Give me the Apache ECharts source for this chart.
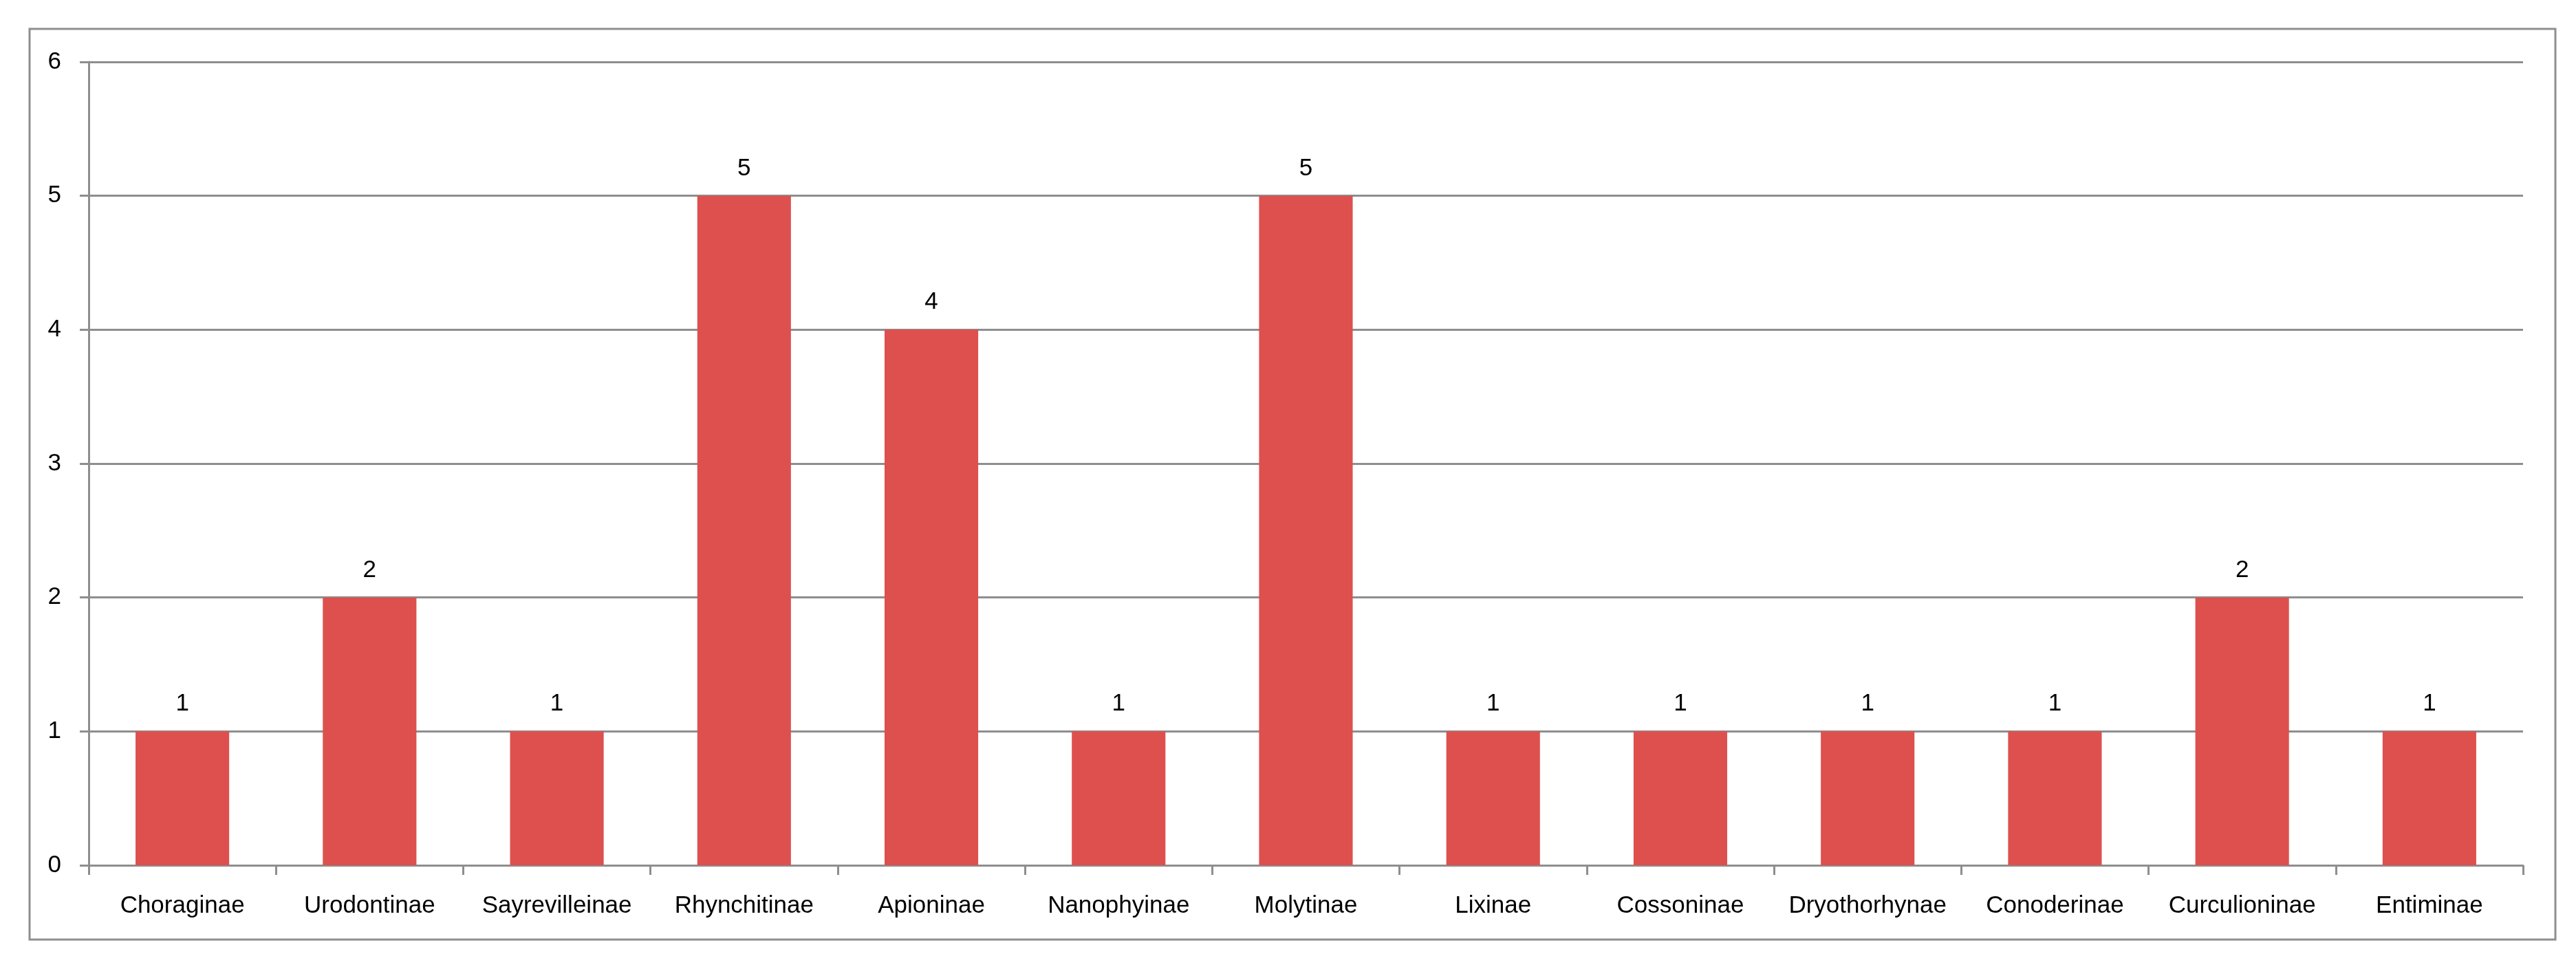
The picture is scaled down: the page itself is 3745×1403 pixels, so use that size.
<!DOCTYPE html>
<html lang="en">
<head>
    <meta charset="UTF-8">
    <title>Subfamilies</title>
    <script src="https://cdn.jsdelivr.net/npm/echarts@6/dist/echarts.min.js"></script>
    <style>
        html, body { margin: 0; padding: 0; background: #fff; }
        #main { width: 3745px; height: 1403px; }
    </style>
</head>
<body>
<div id="main"></div>

<script>
    // categories and counts
    var subfamilies = ['Choraginae', 'Urodontinae', 'Sayrevilleinae', 'Rhynchitinae', 'Apioninae',
        'Nanophyinae', 'Molytinae', 'Lixinae', 'Cossoninae', 'Dryothorhynae', 'Conoderinae',
        'Curculioninae', 'Entiminae'];
    var counts = [1, 2, 1, 5, 4, 1, 5, 1, 1, 1, 1, 2, 1];
    var yTicks = [0, 1, 2, 3, 4, 5, 6];

    var lineColor = '#8e8e8e';
    var font = "'Liberation Sans', Arial, sans-serif";

    var myChart = echarts.init(document.getElementById('main'));

    var option = {
        backgroundColor: '#fff',
        animation: false,
        graphic: [
            {
                type: 'rect',
                shape: {x: 43, y: 42, width: 3672, height: 1324},
                style: {fill: 'none', stroke: lineColor, lineWidth: 3}
            }
        ],
        grid: {
            left: 129,
            right: 77,
            top: 90,
            bottom: 145
        },
        xAxis: {
            type: 'category',
            data: subfamilies,
            axisLine: {lineStyle: {color: lineColor, width: 3}},
            axisTick: {show: true, length: 14, lineStyle: {color: lineColor, width: 3}},
            axisLabel: {
                color: '#000',
                fontFamily: font,
                fontSize: 35,
                margin: 42,
                interval: 0
            }
        },
        yAxis: {
            type: 'value',
            min: yTicks[0],
            max: yTicks[yTicks.length - 1],
            interval: 1,
            axisLine: {show: true, lineStyle: {color: lineColor, width: 3}},
            axisTick: {show: true, length: 13, lineStyle: {color: lineColor, width: 3}},
            splitLine: {lineStyle: {color: lineColor, width: 3}},
            axisLabel: {
                color: '#000',
                fontFamily: font,
                fontSize: 35,
                margin: 40
            }
        },
        series: [
            {
                type: 'bar',
                data: counts,
                barWidth: '50%',
                itemStyle: {color: '#DD504E'},
                label: {
                    show: true,
                    position: 'top',
                    distance: 22,
                    color: '#000',
                    fontFamily: font,
                    fontSize: 35
                }
            }
        ]
    };

    myChart.setOption(option, true);
</script>
</body>
</html>
